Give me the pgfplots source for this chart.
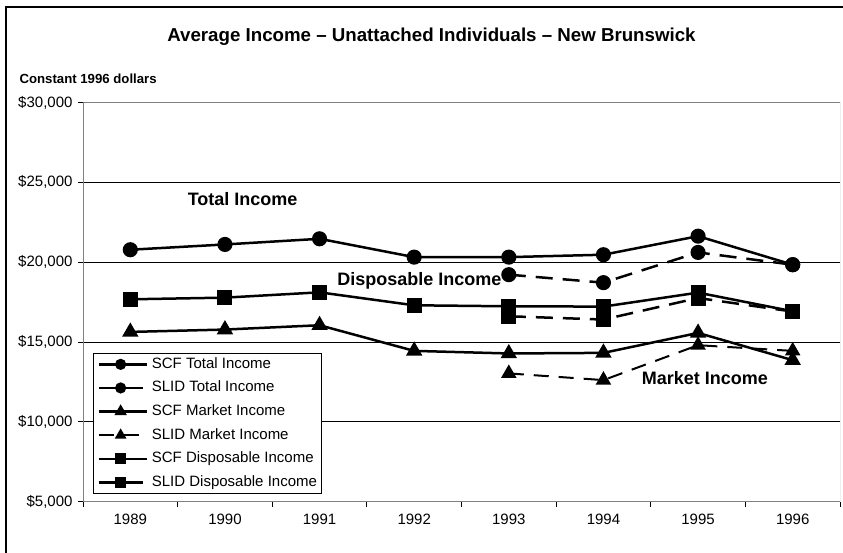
\documentclass[border=0pt]{standalone}
\usepackage{fontspec}
\setmainfont{Liberation Sans}
\usepackage{pgfplots}
\pgfplotsset{compat=1.18}
\begin{document}
\begin{tikzpicture}[x=1pt,y=1pt]
\useasboundingbox (0,0) rectangle (843,552);
\draw[line width=1.2pt] (6,-20) -- (6,545) -- (870,545);
\node[font=\fontsize{18.7}{22}\selectfont\bfseries] at (431.5,515) {Average Income – Unattached Individuals – New Brunswick};
\node[font=\fontsize{13.2}{15}\selectfont\bfseries, anchor=west] at (16,473) {Constant 1996 dollars};
\begin{axis}[at={(83pt,50.5pt)}, anchor=south west, scale only axis,
  width=757pt, height=399pt,
  xmin=-0.5, xmax=7.5, ymin=5000, ymax=30000,
  scaled y ticks=false,
  xtick={-0.5,0.5,1.5,2.5,3.5,4.5,5.5,6.5,7.5},
  xticklabels={1989,1990,1991,1992,1993,1994,1995,1996},
  x tick label as interval,
  ytick={5000,10000,15000,20000,25000,30000},
  yticklabels={{\$5,000},{\$10,000},{\$15,000},{\$20,000},{\$25,000},{\$30,000}},
  axis x line*=bottom, axis y line*=left,
  tick align=outside, major tick length=5pt,
  tick style={black, line width=0.8pt},
  tick label style={font=\fontsize{15}{18}\selectfont},
  xticklabel style={yshift=-4pt},
  yticklabel style={xshift=-2pt},
  ymajorgrids, grid style={black, line width=0.8pt},
  axis line style={black, line width=0.8pt},
  legend style={at={(0.0132,0.3723)}, anchor=north west, draw=black, line width=0.8pt,
    fill=white, font=\fontsize{15}{18}\selectfont, inner sep=4pt, row sep=9.6pt, column sep=4pt,
    nodes={inner sep=0pt, text height=11pt, text depth=3pt}},
  legend cell align=left,
  legend image code/.code={\draw[#1] (0pt,0pt) -- (48pt,0pt);
    \draw[#1, solid, every mark/.append style={scale=0.68}] plot coordinates {(22pt,0pt)};},
  scf/.style={black, solid, line width=2.5pt, mark options={solid, fill=black}},
  slid/.style={black, line width=2.5pt, dash pattern=on 17pt off 10pt, mark options={solid, fill=black}},
]
\draw[gray, line width=0.8pt] (rel axis cs:0,0) rectangle (rel axis cs:1,1);
\addplot[scf, mark=*, mark size=6.3pt] coordinates {(0,20775) (1,21106) (2,21460) (3,20312) (4,20312) (5,20462) (6,21625) (7,19837)};
\addlegendentry{SCF Total Income}
\addplot[slid, mark=*, mark size=6.3pt] coordinates {(4,19212) (5,18712) (6,20606) (7,19837)};
\addlegendentry{SLID Total Income}
\addplot[scf, mark=triangle*, mark size=7pt] coordinates {(0,15625) (1,15773) (2,16044) (3,14437) (4,14275) (5,14312) (6,15562) (7,13856)};
\addlegendentry{SCF Market Income}
\addplot[slid, line width=2pt, dash pattern=on 15pt off 10pt, mark=triangle*, mark size=7pt] coordinates {(4,13025) (5,12606) (6,14794) (7,14437)};
\addlegendentry{SLID Market Income}
\addplot[scf, mark=square*, mark size=6.3pt] coordinates {(0,17669) (1,17773) (2,18106) (3,17294) (4,17231) (5,17212) (6,18087) (7,16919)};
\addlegendentry{SCF Disposable Income}
\addplot[slid, mark=square*, mark size=6.3pt] coordinates {(4,16606) (5,16400) (6,17750) (7,16900)};
\addlegendentry{SLID Disposable Income}
\node[font=\fontsize{18}{21}\selectfont\bfseries] at (axis cs:1.187,23919) {Total Income};
\node[font=\fontsize{18}{21}\selectfont\bfseries] at (axis cs:3.054,18812) {Disposable Income};
\node[font=\fontsize{18}{21}\selectfont\bfseries] at (axis cs:6.073,12750) {Market Income};
\end{axis}
\end{tikzpicture}
\end{document}
